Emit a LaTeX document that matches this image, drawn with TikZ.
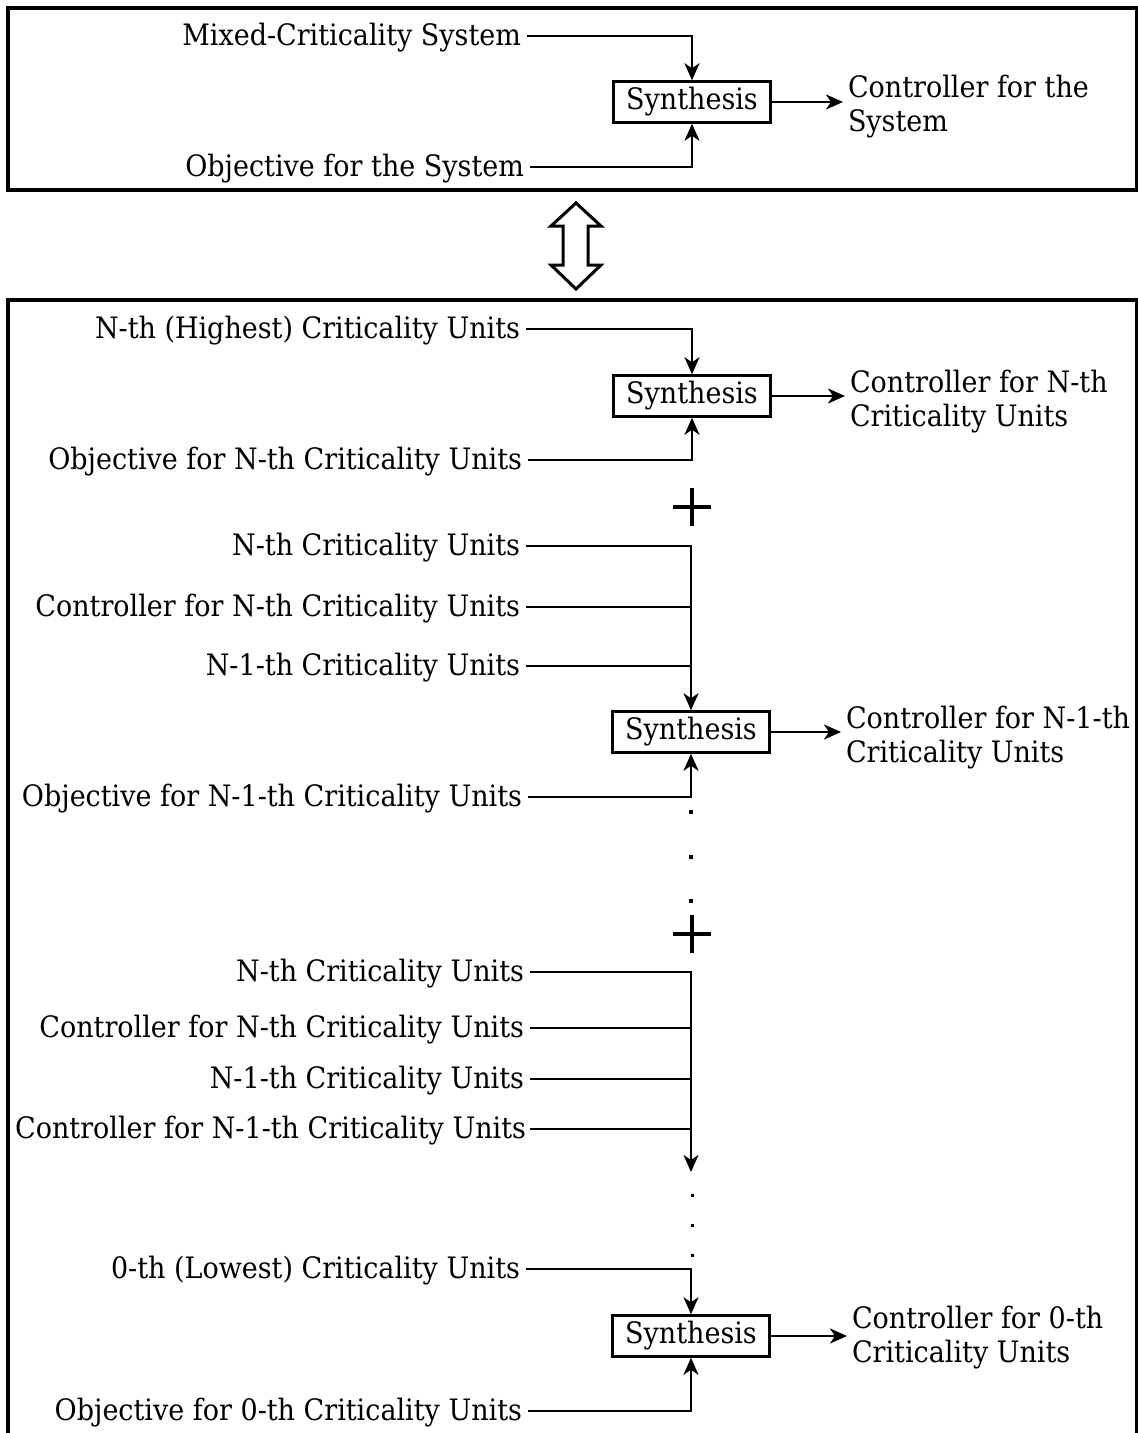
\documentclass[tikz,border=0pt]{standalone}
\usepackage{fontspec}
\setmainfont{DejaVu Serif}[FakeStretch=0.915]
\usetikzlibrary{arrows.meta}
\begin{document}
\begin{tikzpicture}[x=1pt,y=-1pt,
 every node/.style={font=\fontsize{29.5}{34}\selectfont},
 lbl/.style={anchor=base east, inner sep=0pt, outer xsep=6pt, outer ysep=0pt},
 outtxt/.style={anchor=west, inner sep=0pt, outer xsep=5pt, outer ysep=0pt, align=left},
 synth/.style={draw, line width=2.5pt, minimum width=157pt, minimum height=41pt, inner sep=0pt},
 conn/.style={line width=2.6pt},
 arr/.style={conn, -{Stealth[length=17pt,width=15pt,inset=5pt]}},
 frame/.style={line width=3.5pt},
 plusmark/.style={line width=4.5pt},
]
\useasboundingbox (0,0) rectangle (1138,1433);
\def\bl{9}

% frames
\draw[frame] (8,8) rectangle (1137,190);
\draw[frame] (8,1445) -- (8,300) -- (1137,300) -- (1137,1445);

% double arrow
\draw[line width=3pt, line join=miter] (576,203) -- (601,226) -- (588,226) -- (588,265) -- (601,265) -- (576,289) -- (551,265) -- (563,265) -- (563,226) -- (551,226) -- cycle;

% top section
\node[synth] (s0) at (692,102) {Synthesis};
\node[lbl] (m1) at (527,36+\bl) {Mixed-Criticality System};
\node[lbl] (ob0) at (530,167+\bl) {Objective for the System};
\node[outtxt] (o0) at (843,107) {Controller for the\\System};
\draw[arr] ([yshift=\bl pt]m1.base east) -| (s0.north);
\draw[arr] ([yshift=\bl pt]ob0.base east) -| (s0.south);
\draw[arr] (s0.east) -- (o0.west |- s0.east);

% section 1
\node[synth] (s1) at (692,396) {Synthesis};
\node[lbl] (a1) at (526,329+\bl) {N-th (Highest) Criticality Units};
\node[lbl] (b1) at (528,460+\bl) {Objective for N-th Criticality Units};
\node[outtxt] (o1) at (845,402) {Controller for N-th\\Criticality Units};
\draw[arr] ([yshift=\bl pt]a1.base east) -| (s1.north);
\draw[arr] ([yshift=\bl pt]b1.base east) -| (s1.south);
\draw[arr] (s1.east) -- (o1.west |- s1.east);

\draw[plusmark] (673,507) -- (711,507) (692,488) -- (692,526);

% section 2
\node[synth] (s2) at (691,732) {Synthesis};
\node[lbl] (c1) at (526,546+\bl) {N-th Criticality Units};
\node[lbl] (c2) at (526,607+\bl) {Controller for N-th Criticality Units};
\node[lbl] (c3) at (526,666+\bl) {N-1-th Criticality Units};
\node[lbl] (b2) at (528,797+\bl) {Objective for N-1-th Criticality Units};
\node[outtxt] (o2) at (841,737.5) {Controller for N-1-th\\Criticality Units};
\draw[arr] ([yshift=\bl pt]c1.base east) -| (s2.north);
\draw[conn] ([yshift=\bl pt]c2.base east) -- ([yshift=\bl pt]c2.base east -| s2.north);
\draw[conn] ([yshift=\bl pt]c3.base east) -- ([yshift=\bl pt]c3.base east -| s2.north);
\draw[arr] ([yshift=\bl pt]b2.base east) -| (s2.south);
\draw[arr] (s2.east) -- (o2.west |- s2.east);

\foreach \yy in {812,857,901} \fill (691,\yy) ++(-2,-2) rectangle ++(4,4);

\draw[plusmark] (673,934) -- (711,934) (692,915) -- (692,953);

% section 3
\coordinate (e) at (691,1172);
\node[lbl] (d1) at (530,972+\bl) {N-th Criticality Units};
\node[lbl] (d2) at (530,1028+\bl) {Controller for N-th Criticality Units};
\node[lbl] (d3) at (530,1079+\bl) {N-1-th Criticality Units};
\node[lbl, outer xsep=4pt] (d4) at (530,1129+\bl) {Controller for N-1-th Criticality Units};
\draw[arr] ([yshift=\bl pt]d1.base east) -| (e);
\draw[conn] ([yshift=\bl pt]d2.base east) -- ([yshift=\bl pt]d2.base east -| e);
\draw[conn] ([yshift=\bl pt]d3.base east) -- ([yshift=\bl pt]d3.base east -| e);
\draw[conn] ([yshift=\bl pt]d4.base east) -- ([yshift=\bl pt]d4.base east -| e);

\foreach \yy in {1195,1225,1255} \fill (692,\yy) ++(-1.5,-1.5) rectangle ++(3,3);

% section 4
\node[synth] (s3) at (691,1336) {Synthesis};
\node[lbl] (f1) at (526,1269+\bl) {0-th (Lowest) Criticality Units};
\node[lbl] (b3) at (528,1411+\bl) {Objective for 0-th Criticality Units};
\node[outtxt] (o3) at (847,1338) {Controller for 0-th\\Criticality Units};
\draw[arr] ([yshift=\bl pt]f1.base east) -| (s3.north);
\draw[arr] ([yshift=\bl pt]b3.base east) -| (s3.south);
\draw[arr] (s3.east) -- (o3.west |- s3.east);
\end{tikzpicture}
\end{document}
